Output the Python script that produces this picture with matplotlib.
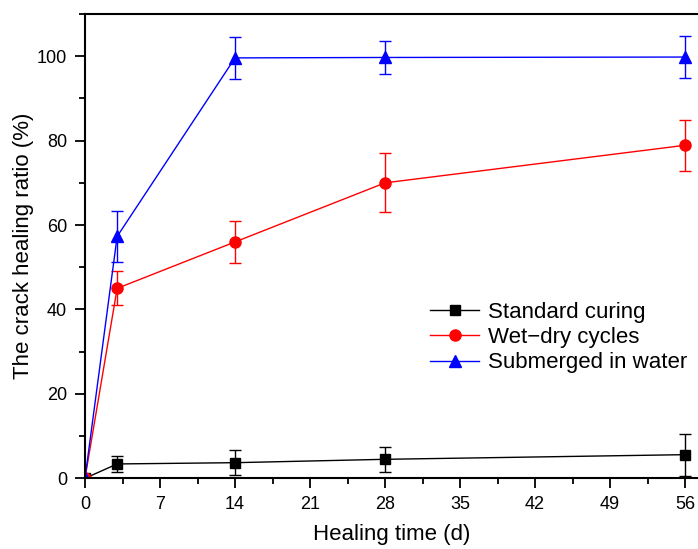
import matplotlib.pyplot as plt
from matplotlib.lines import Line2D
from matplotlib.ticker import MultipleLocator

plt.rcParams['font.family'] = ['Liberation Sans', 'DejaVu Sans']

days = [0, 3, 14, 28, 56]

standard = [0, 3.4, 3.7, 4.5, 5.6]
standard_err = [0, 2.0, 3.0, 3.0, 5.0]

wet_dry = [0, 45.0, 56.0, 70.0, 78.9]
wet_dry_err = [0, 4.0, 5.0, 7.0, 6.0]

submerged = [0, 57.3, 99.6, 99.7, 99.8]
submerged_err = [0, 6.0, 5.0, 4.0, 5.0]

labels = ['Standard curing', 'Wet\u2212dry cycles', 'Submerged in water']

fig = plt.figure(figsize=(6.98, 5.49), dpi=100)
ax = fig.add_axes([85/698, 1-478.3/549, 1-85/698, (478.3-14)/549])

styles = [('black', 's', 6.5), ('red', 'o', 8), ('blue', '^', 8.5)]
series = [(standard, standard_err), (wet_dry, wet_dry_err), (submerged, submerged_err)]

handles = []
for (vals, errs), (col, mk, ms), lab in zip(series, styles, labels):
    ax.errorbar(days, vals, yerr=errs, color=col, marker=mk, markersize=ms,
                linewidth=1, elinewidth=1, capsize=4, capthick=1)
    handles.append(Line2D([], [], color=col, marker=mk, markersize=ms,
                          linewidth=1, label=lab))

ax.set_xlim(0, 57.2)
ax.set_ylim(0, 110)
ax.xaxis.set_major_locator(MultipleLocator(7))
ax.xaxis.set_minor_locator(MultipleLocator(3.5))
ax.yaxis.set_major_locator(MultipleLocator(20))
ax.yaxis.set_minor_locator(MultipleLocator(10))
ax.tick_params(which='major', direction='out', length=7, width=1.3,
               labelsize=13, pad=6)
ax.tick_params(which='minor', direction='out', length=4, width=1.3)
for s in ['left', 'bottom', 'top']:
    ax.spines[s].set_linewidth(1.5)
ax.spines['right'].set_visible(False)

ax.set_xlabel('Healing time (d)', fontsize=16, labelpad=8)
ax.set_ylabel('The crack healing ratio (%)', fontsize=16, labelpad=2)

ax.legend(handles=handles, loc='upper left', bbox_to_anchor=(0.563, 0.38),
          frameon=False, fontsize=16, handlelength=2.2, handletextpad=0.4,
          labelspacing=0.19, borderpad=0, borderaxespad=0)

fig.savefig('out.png', dpi=100)
